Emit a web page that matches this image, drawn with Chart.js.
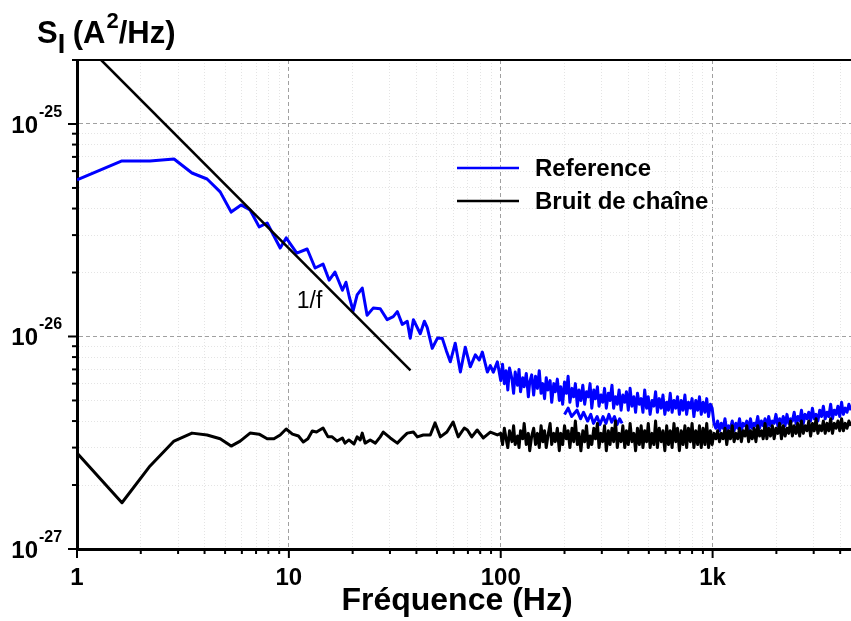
<!DOCTYPE html>
<html>
<head>
<meta charset="utf-8">
<script src="https://cdn.jsdelivr.net/npm/chart.js@4"></script>
<style>
  html, body { margin: 0; padding: 0; background: #fff; }
  #wrap { width: 851px; height: 621px; }
</style>
</head>
<body>
<div id="wrap"><canvas id="noiseChart" width="851" height="621"></canvas></div>
<script>
// --- data ---
const seriesNames = ['Reference', 'Bruit de chaîne'];

// low-frequency part of the reference spectrum (Hz, A^2/Hz)
const refLowFreq = [1.00, 1.63, 2.21, 2.87, 3.49, 4.11, 4.74, 5.34, 5.95, 6.56,
  7.24, 7.90, 9.10, 9.71, 10.9, 12.2, 13.3, 14.5, 15.5, 16.5,
  17.9, 18.6, 19.3, 20.1, 21.0, 22.2, 23.4, 25.0, 27.0, 29.1,
  31.1, 32.5, 34.3, 36.2, 37.4, 38.7, 41.7, 43.6, 45.0, 47.5,
  50.2, 53.0, 55.3, 57.8, 61.0, 64.5, 68.0, 71.8, 75.9, 79.2,
  81.9, 86.5, 89.3, 92.3, 96.4];
const refLowValue = [5.45e-26, 6.70e-26, 6.70e-26, 6.84e-26, 5.88e-26, 5.51e-26, 4.79e-26, 3.85e-26, 4.16e-26, 3.94e-26,
  3.28e-26, 3.42e-26, 2.61e-26, 2.91e-26, 2.47e-26, 2.58e-26, 2.10e-26, 2.19e-26, 1.84e-26, 2.01e-26,
  1.65e-26, 1.80e-26, 1.53e-26, 1.32e-26, 1.57e-26, 1.69e-26, 1.26e-26, 1.36e-26, 1.35e-26, 1.20e-26,
  1.24e-26, 1.31e-26, 1.14e-26, 1.18e-26, 9.8e-27, 1.20e-26, 1.03e-26, 1.18e-26, 1.10e-26, 8.8e-27,
  9.8e-27, 9.8e-27, 8.6e-27, 7.6e-27, 9.3e-27, 6.8e-27, 8.9e-27, 7.2e-27, 8.2e-27, 7.75e-27,
  8.45e-27, 6.8e-27, 7.3e-27, 6.8e-27, 7.6e-27];

// low-frequency part of the amplifier chain noise
const noiseLowFreq = [1.00, 1.63, 2.19, 2.87, 3.49, 4.11, 4.74, 5.34, 5.89, 6.56,
  7.24, 7.90, 8.5, 9.1, 9.71, 10.4, 11.1, 11.7, 12.3, 12.9,
  13.5, 14.5, 15.3, 16.0, 16.9, 17.9, 18.4, 19.2, 20.3, 21.0,
  21.7, 22.2, 22.9, 24.2, 25.6, 27.0, 27.9, 30.1, 32.5, 34.7,
  36.2, 38.7, 40.4, 43.1, 46.5, 49.0, 51.9, 55.7, 59.6, 63.0,
  67.3, 69.6, 73.0, 77.4, 82.8, 89.3, 96.4];
const noiseLowValue = [2.83e-27, 1.65e-27, 2.43e-27, 3.22e-27, 3.51e-27, 3.44e-27, 3.30e-27, 3.05e-27, 3.22e-27, 3.51e-27,
  3.47e-27, 3.30e-27, 3.30e-27, 3.44e-27, 3.67e-27, 3.47e-27, 3.40e-27, 3.19e-27, 3.30e-27, 3.59e-27,
  3.55e-27, 3.71e-27, 3.37e-27, 3.37e-27, 3.22e-27, 3.33e-27, 3.15e-27, 3.26e-27, 3.12e-27, 3.37e-27,
  3.26e-27, 3.51e-27, 3.15e-27, 3.26e-27, 3.15e-27, 3.37e-27, 3.55e-27, 3.33e-27, 3.15e-27, 3.37e-27,
  3.51e-27, 3.55e-27, 3.37e-27, 3.44e-27, 3.44e-27, 3.92e-27, 3.37e-27, 3.55e-27, 3.96e-27, 3.37e-27,
  3.71e-27, 3.63e-27, 3.37e-27, 3.63e-27, 3.33e-27, 3.55e-27, 3.44e-27];

// dense high-frequency part (shared frequency grid, Hz)
const denseFreq = [100, 102, 104, 106, 108, 110, 113, 115, 117, 120,
  122, 124, 127, 129, 132, 135, 137, 140, 143, 146,
  149, 152, 155, 158, 161, 164, 167, 171, 174, 178,
  181, 185, 189, 192, 196, 200, 204, 208, 212, 217,
  221, 225, 230, 234, 239, 244, 249, 254, 259, 264,
  269, 275, 280, 286, 291, 297, 303, 309, 315, 322,
  328, 335, 341, 348, 355, 362, 370, 377, 385, 392,
  400, 408, 416, 425, 433, 442, 451, 460, 469, 478,
  488, 497, 507, 518, 528, 538, 549, 560, 572, 583,
  595, 607, 619, 631, 644, 657, 670, 683, 697, 711,
  725, 740, 754, 769, 785, 800, 816, 833, 850, 867,
  884, 902, 920, 938, 957, 976, 995, 1015, 1036, 1056,
  1078, 1099, 1121, 1144, 1166, 1190, 1214, 1238, 1263, 1288,
  1314, 1340, 1367, 1394, 1422, 1450, 1479, 1509, 1539, 1570,
  1601, 1633, 1666, 1699, 1733, 1768, 1803, 1840, 1876, 1914,
  1952, 1991, 2031, 2072, 2113, 2155, 2199, 2243, 2287, 2333,
  2380, 2427, 2476, 2525, 2576, 2627, 2680, 2733, 2788, 2844,
  2901, 2959, 3018, 3078, 3140, 3203, 3267, 3332, 3399, 3467,
  3536, 3607, 3679, 3753, 3828, 3904, 3982, 4062, 4143, 4226,
  4311, 4397, 4500];
const refDenseValue = [6.2e-27, 7.4e-27, 6.0e-27, 6.9e-27, 5.6e-27, 7.1e-27, 6.3e-27, 5.4e-27, 6.8e-27, 5.9e-27,
  7.0e-27, 5.5e-27, 6.4e-27, 5.8e-27, 6.7e-27, 5.2e-27, 6.1e-27, 6.6e-27, 5.3e-27, 6.5e-27,
  5.7e-27, 6.9e-27, 5.4e-27, 6.0e-27, 5.1e-27, 6.4e-27, 5.6e-27, 6.2e-27, 4.9e-27, 6.0e-27,
  5.5e-27, 6.3e-27, 5.0e-27, 5.8e-27, 4.8e-27, 6.1e-27, 5.4e-27, 6.5e-27, 4.9e-27, 5.7e-27,
  5.2e-27, 6.0e-27, 4.7e-27, 5.6e-27, 5.0e-27, 5.9e-27, 4.8e-27, 5.5e-27, 5.2e-27, 6.0e-27,
  4.6e-27, 5.6e-27, 5.1e-27, 5.8e-27, 4.7e-27, 5.3e-27, 4.9e-27, 5.7e-27, 4.6e-27, 5.4e-27,
  5.0e-27, 5.9e-27, 4.6e-27, 5.2e-27, 4.8e-27, 5.6e-27, 4.5e-27, 5.3e-27, 4.9e-27, 5.5e-27,
  4.5e-27, 5.7e-27, 4.7e-27, 5.2e-27, 4.4e-27, 5.4e-27, 4.8e-27, 5.1e-27, 4.4e-27, 5.6e-27,
  4.6e-27, 5.2e-27, 4.3e-27, 5.0e-27, 4.7e-27, 5.5e-27, 4.4e-27, 5.1e-27, 4.6e-27, 5.3e-27,
  4.3e-27, 4.9e-27, 4.5e-27, 5.4e-27, 4.4e-27, 5.0e-27, 4.6e-27, 5.2e-27, 4.3e-27, 5.0e-27,
  4.5e-27, 5.3e-27, 4.3e-27, 4.9e-27, 4.6e-27, 5.1e-27, 4.2e-27, 5.0e-27, 4.5e-27, 5.2e-27,
  4.3e-27, 4.9e-27, 4.4e-27, 5.1e-27, 4.2e-27, 4.8e-27, 4.6e-27, 3.9e-27, 3.7e-27, 4.0e-27,
  3.6e-27, 3.9e-27, 3.7e-27, 4.1e-27, 3.6e-27, 3.8e-27, 3.7e-27, 4.0e-27, 3.6e-27, 3.9e-27,
  3.7e-27, 4.1e-27, 3.6e-27, 3.9e-27, 3.8e-27, 4.0e-27, 3.6e-27, 4.1e-27, 3.7e-27, 3.9e-27,
  3.8e-27, 4.2e-27, 3.7e-27, 4.0e-27, 3.8e-27, 4.1e-27, 3.7e-27, 4.2e-27, 3.8e-27, 4.0e-27,
  3.9e-27, 4.3e-27, 3.8e-27, 4.1e-27, 3.9e-27, 4.2e-27, 3.8e-27, 4.3e-27, 3.9e-27, 4.1e-27,
  4.0e-27, 4.4e-27, 3.9e-27, 4.2e-27, 4.0e-27, 4.5e-27, 3.9e-27, 4.3e-27, 4.1e-27, 4.4e-27,
  4.0e-27, 4.6e-27, 4.1e-27, 4.3e-27, 4.0e-27, 4.5e-27, 4.2e-27, 4.7e-27, 4.1e-27, 4.4e-27,
  4.2e-27, 4.8e-27, 4.1e-27, 4.5e-27, 4.3e-27, 4.7e-27, 4.2e-27, 4.9e-27, 4.3e-27, 4.6e-27,
  4.4e-27, 4.8e-27, 4.5e-27];
const noiseDenseValue = [3.5e-27, 3.1e-27, 3.7e-27, 3.3e-27, 3.0e-27, 3.6e-27, 3.2e-27, 3.8e-27, 3.1e-27, 3.4e-27,
  3.0e-27, 3.6e-27, 3.3e-27, 3.9e-27, 3.1e-27, 3.5e-27, 2.9e-27, 3.4e-27, 3.7e-27, 3.1e-27,
  3.5e-27, 3.0e-27, 3.8e-27, 3.2e-27, 3.6e-27, 3.0e-27, 3.4e-27, 3.9e-27, 3.1e-27, 3.5e-27,
  3.2e-27, 3.7e-27, 2.9e-27, 3.5e-27, 3.1e-27, 3.8e-27, 3.3e-27, 3.6e-27, 3.0e-27, 3.7e-27,
  3.2e-27, 4.0e-27, 3.1e-27, 3.5e-27, 2.9e-27, 3.6e-27, 3.2e-27, 3.8e-27, 3.0e-27, 3.4e-27,
  3.1e-27, 3.7e-27, 3.3e-27, 3.9e-27, 3.0e-27, 3.5e-27, 3.2e-27, 3.8e-27, 2.9e-27, 3.6e-27,
  3.1e-27, 3.7e-27, 3.2e-27, 4.0e-27, 3.0e-27, 3.5e-27, 3.2e-27, 3.8e-27, 3.0e-27, 3.6e-27,
  3.1e-27, 3.9e-27, 3.2e-27, 3.5e-27, 2.9e-27, 3.7e-27, 3.1e-27, 3.8e-27, 3.0e-27, 3.6e-27,
  3.2e-27, 3.9e-27, 3.0e-27, 3.5e-27, 3.1e-27, 4.0e-27, 3.0e-27, 3.7e-27, 3.2e-27, 3.6e-27,
  2.9e-27, 3.8e-27, 3.1e-27, 3.6e-27, 3.0e-27, 3.9e-27, 3.2e-27, 3.7e-27, 2.9e-27, 3.6e-27,
  3.1e-27, 3.8e-27, 3.0e-27, 3.7e-27, 3.2e-27, 3.9e-27, 3.0e-27, 3.6e-27, 3.1e-27, 3.8e-27,
  3.0e-27, 3.7e-27, 3.1e-27, 3.9e-27, 3.0e-27, 3.6e-27, 3.1e-27, 3.5e-27, 3.3e-27, 3.6e-27,
  3.2e-27, 3.5e-27, 3.3e-27, 3.7e-27, 3.1e-27, 3.6e-27, 3.3e-27, 3.8e-27, 3.2e-27, 3.5e-27,
  3.3e-27, 3.7e-27, 3.2e-27, 3.6e-27, 3.4e-27, 3.8e-27, 3.2e-27, 3.6e-27, 3.3e-27, 3.7e-27,
  3.2e-27, 3.8e-27, 3.4e-27, 3.6e-27, 3.3e-27, 3.9e-27, 3.3e-27, 3.7e-27, 3.4e-27, 3.8e-27,
  3.3e-27, 3.7e-27, 3.5e-27, 3.9e-27, 3.3e-27, 3.8e-27, 3.4e-27, 3.7e-27, 3.5e-27, 4.0e-27,
  3.4e-27, 3.8e-27, 3.5e-27, 3.9e-27, 3.4e-27, 4.0e-27, 3.5e-27, 3.8e-27, 3.6e-27, 4.0e-27,
  3.4e-27, 3.9e-27, 3.6e-27, 4.1e-27, 3.5e-27, 3.8e-27, 3.6e-27, 4.0e-27, 3.5e-27, 3.9e-27,
  3.6e-27, 4.1e-27, 3.5e-27, 3.9e-27, 3.7e-27, 4.0e-27, 3.6e-27, 4.1e-27, 3.6e-27, 3.9e-27,
  3.7e-27, 4.0e-27, 3.8e-27];

// second, lower segment of the reference trace (200-380 Hz)
const refBranchFreq = [200, 208, 216, 229, 238, 246, 257, 266, 274, 285, 294, 304, 314, 324, 334, 344, 354, 364, 374];
const refBranchValue = [4.3e-27, 4.6e-27, 4.2e-27, 4.5e-27, 4.1e-27, 4.4e-27, 4.0e-27, 4.3e-27, 3.9e-27, 4.2e-27,
  3.85e-27, 4.2e-27, 3.9e-27, 4.3e-27, 3.95e-27, 4.2e-27, 3.85e-27, 4.1e-27, 3.9e-27];

// 1/f guide line and its label
const oneOverFFreq = [1.3, 37.5];
const oneOverFValue = [2.0e-25, 6.93e-27];
const oneOverFLabel = { text: '1/f', x: 10.9, y: 1.36e-26 };

// axes
const xMin = 1, xMax = 4500;
const yMin = 1e-27, yMax = 2e-25;
const xMajorTicks = [1, 10, 100, 1000];
const xTickLabels = ['1', '10', '100', '1k'];
const yMajorTicks = [1e-27, 1e-26, 1e-25];
const yTickExponents = ['-27', '-26', '-25'];
const minorSteps = [2, 3, 4, 5, 6, 7, 8, 9];

const FONT = '"Liberation Sans", Arial, sans-serif';

function isDecade(v) {
  const l = Math.log10(v);
  return Math.abs(l - Math.round(l)) < 1e-6;
}

function logTicks(majors, max) {
  const out = [];
  majors.forEach(m => {
    out.push({ value: m, major: true });
    minorSteps.forEach(s => {
      if (m * s <= max * 1.0001) out.push({ value: m * s, major: false });
    });
  });
  return out;
}

function toPoints(xs, ys) {
  return xs.map((x, i) => ({ x: x, y: ys[i] }));
}

const gridColor = ctx => (ctx.tick && isDecade(ctx.tick.value)) ? '#a0a0a0' : '#e4e4e4';
const gridDash = ctx => {
  if (!ctx.tick) return [];
  return isDecade(ctx.tick.value) ? [4, 3] : [1, 2];
};

// frame, ticks, labels, legend, annotation
const decorations = {
  id: 'decorations',
  afterDraw(chart) {
    const { ctx, chartArea: a, scales: { x, y } } = chart;
    ctx.save();
    ctx.strokeStyle = '#000';
    ctx.fillStyle = '#000';

    // top frame line
    ctx.lineWidth = 2;
    ctx.beginPath();
    ctx.moveTo(a.left - 1.5, a.top);
    ctx.lineTo(a.right, a.top);
    ctx.stroke();

    // tick marks (outward)
    ctx.lineWidth = 2;
    x.ticks.forEach(t => {
      const px = x.getPixelForValue(t.value);
      const len = isDecade(t.value) ? 9 : 5;
      ctx.beginPath();
      ctx.moveTo(px, a.bottom);
      ctx.lineTo(px, a.bottom + len);
      ctx.stroke();
    });
    y.ticks.forEach(t => {
      const py = y.getPixelForValue(t.value);
      const len = isDecade(t.value) ? 9 : 5;
      ctx.beginPath();
      ctx.moveTo(a.left, py);
      ctx.lineTo(a.left - len, py);
      ctx.stroke();
    });

    // x tick labels
    ctx.font = 'bold 24px ' + FONT;
    ctx.textAlign = 'center';
    ctx.textBaseline = 'alphabetic';
    xMajorTicks.forEach((v, i) => {
      ctx.fillText(xTickLabels[i], x.getPixelForValue(v), a.bottom + 36);
    });

    // y tick labels: 10^n
    yMajorTicks.forEach((v, i) => {
      const py = y.getPixelForValue(v);
      ctx.font = 'bold 24px ' + FONT;
      ctx.textAlign = 'right';
      ctx.fillText('10', a.left - 39, py + 9);
      ctx.font = 'bold 16px ' + FONT;
      ctx.textAlign = 'left';
      ctx.fillText(yTickExponents[i], a.left - 38, py - 7);
    });

    // x title
    ctx.font = 'bold 32px ' + FONT;
    ctx.textAlign = 'center';
    ctx.fillText('Fréquence (Hz)', 457, 610);

    // y title: S_I (A^2/Hz)
    ctx.textAlign = 'left';
    let cx = 37;
    ctx.font = 'bold 31px ' + FONT;
    ctx.fillText('S', cx, 43);
    cx += ctx.measureText('S').width;
    ctx.font = 'bold 27px ' + FONT;
    ctx.fillText('I', cx, 53);
    cx += ctx.measureText('I ').width;
    ctx.font = 'bold 31px ' + FONT;
    ctx.fillText('(A', cx, 43);
    cx += ctx.measureText('(A').width + 1;
    ctx.font = 'bold 22px ' + FONT;
    ctx.fillText('2', cx, 28);
    cx += ctx.measureText('2').width;
    ctx.font = 'bold 31px ' + FONT;
    ctx.fillText('/Hz)', cx, 43);

    // legend
    const legendRows = [176, 209];
    chart.data.datasets.filter(d => seriesNames.includes(d.label)).forEach(d => {
      const by = legendRows[seriesNames.indexOf(d.label)];
      ctx.strokeStyle = d.borderColor;
      ctx.lineWidth = 2.5;
      ctx.beginPath();
      ctx.moveTo(457, by - 8);
      ctx.lineTo(519, by - 8);
      ctx.stroke();
      ctx.font = 'bold 24px ' + FONT;
      ctx.fillStyle = '#000';
      ctx.fillText(d.label, 535, by);
    });

    // 1/f annotation
    ctx.font = '23px ' + FONT;
    ctx.fillStyle = '#000';
    ctx.fillText(oneOverFLabel.text, x.getPixelForValue(oneOverFLabel.x), y.getPixelForValue(oneOverFLabel.y));

    ctx.restore();
  }
};

new Chart(document.getElementById('noiseChart').getContext('2d'), {
  type: 'line',
  data: {
    datasets: [
      {
        label: seriesNames[0],
        data: toPoints(refLowFreq.concat(denseFreq), refLowValue.concat(refDenseValue)),
        borderColor: '#0000ff',
        borderWidth: 3,
        order: 2
      },
      {
        label: 'Reference (segment)',
        data: toPoints(refBranchFreq, refBranchValue),
        borderColor: '#0000ff',
        borderWidth: 3,
        order: 2
      },
      {
        label: seriesNames[1],
        data: toPoints(noiseLowFreq.concat(denseFreq), noiseLowValue.concat(noiseDenseValue)),
        borderColor: '#000000',
        borderWidth: 3,
        order: 1
      },
      {
        label: '1/f',
        data: toPoints(oneOverFFreq, oneOverFValue),
        borderColor: '#000000',
        borderWidth: 2.5,
        order: 0
      }
    ]
  },
  options: {
    responsive: false,
    animation: false,
    elements: {
      point: { radius: 0, hoverRadius: 0 },
      line: { tension: 0, fill: false, borderJoinStyle: 'round' }
    },
    layout: { padding: { top: 60, left: 0, right: 0, bottom: 0 } },
    plugins: {
      legend: { display: false },
      tooltip: { enabled: false }
    },
    scales: {
      x: {
        type: 'logarithmic',
        min: xMin,
        max: xMax,
        afterFit: s => { s.height = 72; },
        afterBuildTicks: s => { s.ticks = logTicks(xMajorTicks, xMax); },
        ticks: { display: false },
        grid: { color: gridColor, lineWidth: 1, drawTicks: false },
        border: { color: '#000', width: 3, dash: gridDash }
      },
      y: {
        type: 'logarithmic',
        min: yMin,
        max: yMax,
        afterFit: s => { s.width = 77; },
        afterBuildTicks: s => { s.ticks = logTicks(yMajorTicks, yMax); },
        ticks: { display: false },
        grid: { color: gridColor, lineWidth: 1, drawTicks: false },
        border: { color: '#000', width: 3, dash: gridDash }
      }
    }
  },
  plugins: [decorations]
});
</script>
</body>
</html>
